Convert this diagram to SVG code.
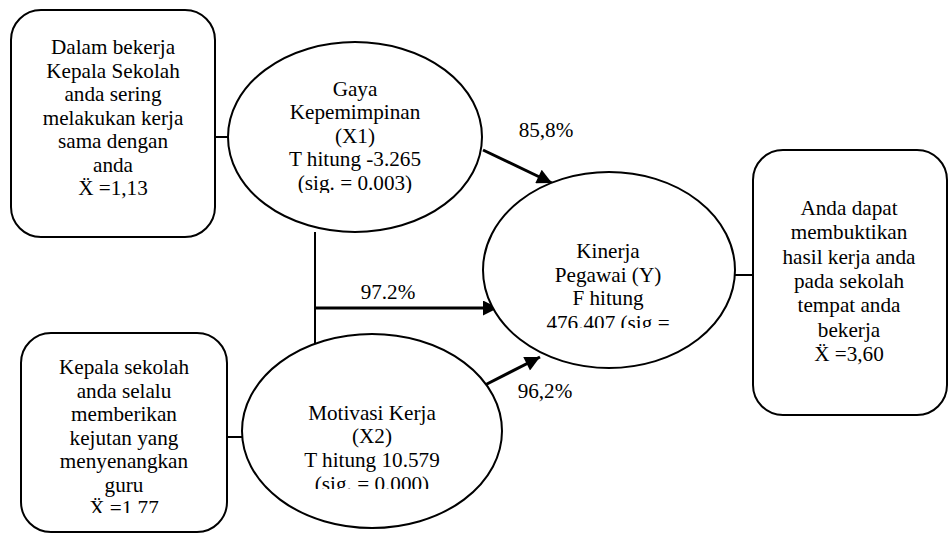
<svg xmlns="http://www.w3.org/2000/svg" width="949" height="534" viewBox="0 0 949 534" font-family="'Liberation Serif', 'Times New Roman', Tinos, serif">
<style>
.box{fill:#fff;stroke:#000;stroke-width:2}
.ell{fill:#fff;stroke:#000;stroke-width:2}
.ln{fill:none;stroke:#000;stroke-width:2}
.arr{fill:none;stroke:#000;stroke-width:3}
text{font-size:21.2px;fill:#000;text-anchor:middle}
</style>
<defs>
<marker id="ah" viewBox="0 0 10 10" refX="10" refY="5" markerWidth="5.5" markerHeight="5" markerUnits="strokeWidth" orient="auto">
<path d="M0,0 L10,5 L0,10 z" fill="#000"/>
</marker>
<clipPath id="cX1"><rect x="0" y="0" width="949" height="193"/></clipPath>
<clipPath id="cY"><rect x="0" y="0" width="949" height="328"/></clipPath>
<clipPath id="cX2"><rect x="0" y="0" width="949" height="489"/></clipPath>
<clipPath id="cB2"><rect x="0" y="0" width="949" height="513"/></clipPath>
</defs>
<g id="connectors">
<line class="ln" x1="215" y1="137" x2="229" y2="137"/>
<line class="ln" x1="227" y1="437" x2="243" y2="437"/>
<line class="ln" x1="735" y1="275" x2="753" y2="275"/>
<line class="ln" x1="315" y1="232" x2="315" y2="346"/>
<line class="arr" x1="315" y1="308" x2="498" y2="308" marker-end="url(#ah)"/>
<line class="arr" x1="483" y1="150" x2="552" y2="183" marker-end="url(#ah)"/>
<line class="arr" x1="485" y1="385" x2="540" y2="357" marker-end="url(#ah)"/>
<text x="388" y="299">97.2%</text>
<text x="546" y="137">85,8%</text>
<text x="545" y="398">96,2%</text>
</g>
<g id="box1">
<rect class="box" x="11" y="10" width="204" height="227" rx="30"/>
<text x="113" y="54">Dalam bekerja</text>
<text x="113" y="77.5">Kepala Sekolah</text>
<text x="113" y="101">anda sering</text>
<text x="113" y="124.5">melakukan kerja</text>
<text x="113" y="148">sama dengan</text>
<text x="113" y="171.5">anda</text>
<text x="113" y="195">Ẍ =1,13</text>
</g>
<g id="box2">
<rect class="box" x="21" y="333" width="206" height="199" rx="30"/>
<g clip-path="url(#cB2)">
<text x="124" y="374">Kepala sekolah</text>
<text x="124" y="397.5">anda selalu</text>
<text x="124" y="421">memberikan</text>
<text x="124" y="444.5">kejutan yang</text>
<text x="124" y="468">menyenangkan</text>
<text x="124" y="491.5">guru</text>
<text x="124" y="515">Ẍ =1,77</text>
</g>
</g>
<g id="box3">
<rect class="box" x="753" y="150" width="194" height="265" rx="30"/>
<text x="849" y="215">Anda dapat</text>
<text x="849" y="239.3">membuktikan</text>
<text x="849" y="263.6">hasil kerja anda</text>
<text x="849" y="288">pada sekolah</text>
<text x="849" y="312.2">tempat anda</text>
<text x="849" y="336.5">bekerja</text>
<text x="849" y="361">Ẍ =3,60</text>
</g>
<g id="nodeX1">
<ellipse class="ell" cx="355" cy="137" rx="127" ry="95"/>
<g clip-path="url(#cX1)">
<text x="355" y="96">Gaya</text>
<text x="355" y="119.3">Kepemimpinan</text>
<text x="355" y="142.6">(X1)</text>
<text x="355" y="166">T hitung -3.265</text>
<text x="355" y="190">(sig. = 0.003)</text>
</g>
</g>
<g id="nodeX2">
<ellipse class="ell" cx="372" cy="431" rx="130" ry="97"/>
<g clip-path="url(#cX2)">
<text x="372" y="420">Motivasi Kerja</text>
<text x="372" y="443">(X2)</text>
<text x="372" y="466.5">T hitung 10.579</text>
<text x="372" y="491">(sig. = 0.000)</text>
</g>
</g>
<g id="nodeY">
<ellipse class="ell" cx="609" cy="270" rx="126" ry="98"/>
<g clip-path="url(#cY)">
<text x="608" y="258">Kinerja</text>
<text x="608" y="281.5">Pegawai (Y)</text>
<text x="608" y="305">F hitung</text>
<text x="608" y="330">476.407 (sig =</text>
</g>
</g>
</svg>
